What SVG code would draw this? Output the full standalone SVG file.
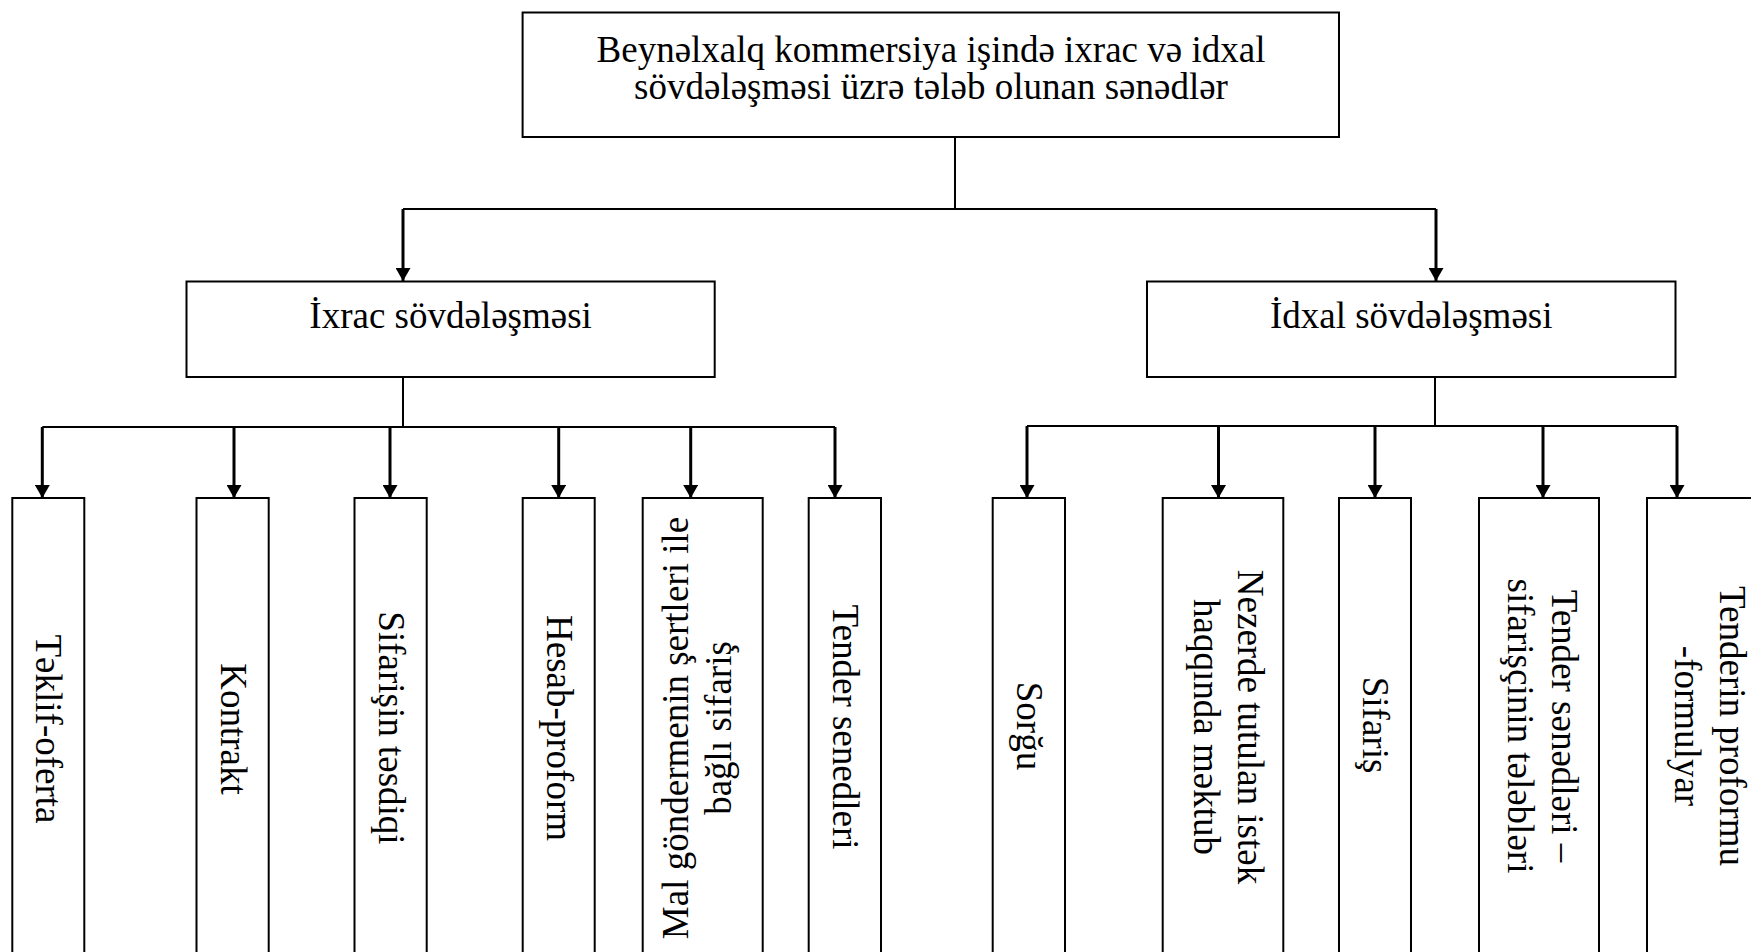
<svg xmlns="http://www.w3.org/2000/svg" width="1751" height="952" viewBox="0 0 1751 952">
  <style>
    .box { fill: #ffffff; stroke: #000000; stroke-width: 2; }
    .line { fill: none; stroke: #000000; stroke-width: 2; }
    .arrow { fill: none; stroke: #000000; stroke-width: 3; marker-end: url(#ah); }
    .lbl { font-family: "Liberation Serif", "Times New Roman", serif; font-size: 37px; fill: #000000; text-anchor: middle; }
  </style>
  <defs>
    <marker id="ah" viewBox="0 0 13 15" refX="13" refY="7.5" markerWidth="13" markerHeight="15" orient="auto" markerUnits="userSpaceOnUse">
      <path d="M0,0 L13,7.5 L0,15 z" fill="#000000"/>
    </marker>
  </defs>
  <rect width="1751" height="952" fill="#ffffff"/>

  <!-- connectors -->
  <g id="connectors">
    <line class="line" x1="955" y1="137" x2="955" y2="209"/>
    <line class="line" x1="403" y1="209" x2="1436" y2="209"/>
    <line class="arrow" x1="403" y1="209" x2="403" y2="281"/>
    <line class="arrow" x1="1436" y1="209" x2="1436" y2="281"/>

    <line class="line" x1="403" y1="377" x2="403" y2="427"/>
    <line class="line" x1="42.3" y1="427" x2="835" y2="427"/>
    <line class="arrow" x1="42.3" y1="427" x2="42.3" y2="498"/>
    <line class="arrow" x1="234" y1="427" x2="234" y2="498"/>
    <line class="arrow" x1="390" y1="427" x2="390" y2="498"/>
    <line class="arrow" x1="558.7" y1="427" x2="558.7" y2="498"/>
    <line class="arrow" x1="690.7" y1="427" x2="690.7" y2="498"/>
    <line class="arrow" x1="835" y1="427" x2="835" y2="498"/>

    <line class="line" x1="1435" y1="377" x2="1435" y2="426"/>
    <line class="line" x1="1027" y1="426" x2="1677" y2="426"/>
    <line class="arrow" x1="1027" y1="426" x2="1027" y2="498"/>
    <line class="arrow" x1="1218.5" y1="426" x2="1218.5" y2="498"/>
    <line class="arrow" x1="1375" y1="426" x2="1375" y2="498"/>
    <line class="arrow" x1="1543" y1="426" x2="1543" y2="498"/>
    <line class="arrow" x1="1677" y1="426" x2="1677" y2="498"/>
  </g>

  <!-- root -->
  <g id="root">
    <rect class="box" x="522.6" y="12.5" width="816.4" height="124.5"/>
    <text class="lbl" x="931" y="62">Beynəlxalq kommersiya işində ixrac və idxal</text>
    <text class="lbl" x="931" y="99">sövdələşməsi üzrə tələb olunan sənədlər</text>
  </g>

  <!-- second level -->
  <g id="ixrac">
    <rect class="box" x="186.5" y="281.5" width="528.2" height="95.5"/>
    <text class="lbl" x="450.6" y="328">İxrac sövdələşməsi</text>
  </g>
  <g id="idxal">
    <rect class="box" x="1147" y="281.5" width="528.5" height="95.5"/>
    <text class="lbl" x="1411.2" y="328">İdxal sövdələşməsi</text>
  </g>

  <!-- export documents -->
  <g id="teklif-oferta">
    <rect class="box" x="12.3" y="498" width="72" height="460"/>
    <text class="lbl" transform="translate(36.3,729) rotate(90)">Təklif-oferta</text>
  </g>
  <g id="kontrakt">
    <rect class="box" x="196.5" y="498" width="72.2" height="460"/>
    <text class="lbl" transform="translate(220.6,729) rotate(90)">Kontrakt</text>
  </g>
  <g id="sifarisin-tesdiqi">
    <rect class="box" x="354.5" y="498" width="72.2" height="460"/>
    <text class="lbl" transform="translate(378.6,728) rotate(90)">Sifarişin təsdiqi</text>
  </g>
  <g id="hesab-proform">
    <rect class="box" x="522.7" y="498" width="72" height="460"/>
    <text class="lbl" transform="translate(546.7,728) rotate(90)">Hesab-proform</text>
  </g>
  <g id="mal-gonderme-sifaris">
    <rect class="box" x="642.7" y="498" width="120" height="460"/>
    <text class="lbl" transform="translate(688,728) rotate(-90)"><tspan x="0" y="0">Mal göndermenin şertleri ile</tspan><tspan x="0" dy="43">bağlı sifariş</tspan></text>
  </g>
  <g id="tender-senedleri">
    <rect class="box" x="808.7" y="498" width="72.3" height="460"/>
    <text class="lbl" transform="translate(833,727) rotate(90)">Tender senedleri</text>
  </g>

  <!-- import documents -->
  <g id="sorgu">
    <rect class="box" x="992.7" y="498" width="72.3" height="460"/>
    <text class="lbl" transform="translate(1017,726) rotate(90)">Sorğu</text>
  </g>
  <g id="nezerde-tutulan">
    <rect class="box" x="1162.7" y="498" width="120.6" height="460"/>
    <text class="lbl" transform="translate(1238,727) rotate(90)"><tspan x="0" y="0">Nezerde tutulan istək</tspan><tspan x="0" dy="44">haqqında məktub</tspan></text>
  </g>
  <g id="sifaris">
    <rect class="box" x="1339" y="498" width="72" height="460"/>
    <text class="lbl" transform="translate(1363,725) rotate(90)">Sifariş</text>
  </g>
  <g id="tender-telebleri">
    <rect class="box" x="1479" y="498" width="120" height="460"/>
    <text class="lbl" transform="translate(1552,726) rotate(90)"><tspan x="0" y="0">Tender sənədləri –</tspan><tspan x="0" dy="44">sifarişçinin tələbləri</tspan></text>
  </g>
  <g id="tenderin-proformu">
    <rect class="box" x="1647" y="498" width="120" height="460"/>
    <text class="lbl" transform="translate(1720,726) rotate(90)"><tspan x="0" y="0">Tenderin proformu</tspan><tspan x="0" dy="45">-formulyar</tspan></text>
  </g>
</svg>
